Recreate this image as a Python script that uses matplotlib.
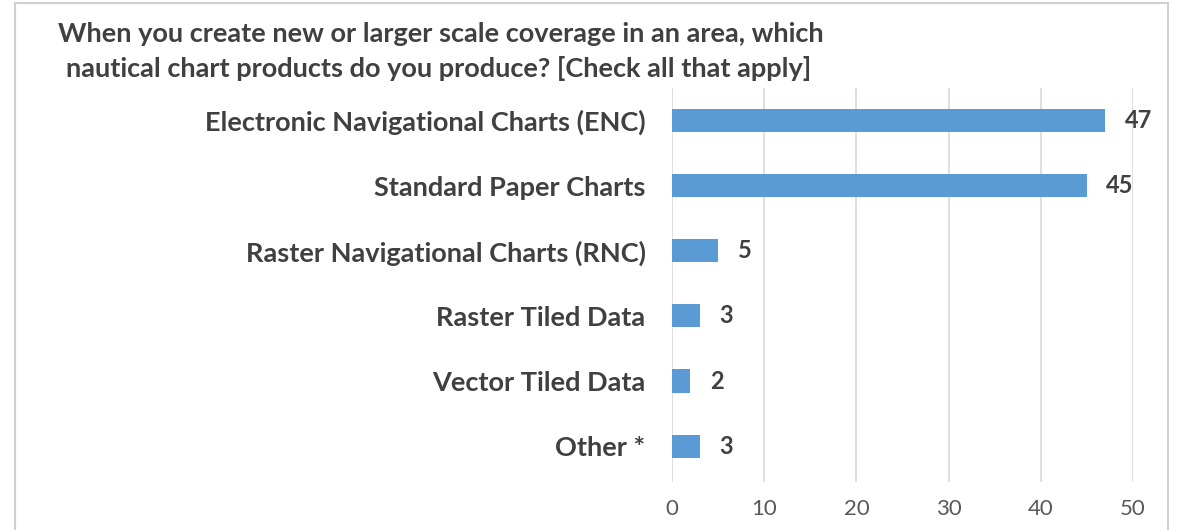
import matplotlib.pyplot as plt
from matplotlib.patches import Rectangle

categories = ['Electronic Navigational Charts (ENC)', 'Standard Paper Charts',
              'Raster Navigational Charts (RNC)', 'Raster Tiled Data',
              'Vector Tiled Data', 'Other *']
counts = [47, 45, 5, 3, 2, 3]
title_lines = ['When you create new or larger scale coverage in an area, which',
               'nautical chart products do you produce? [Check all that apply]']

plt.rcParams['font.family'] = ['Lato', 'DejaVu Sans']

W, H = 1177, 530
fig = plt.figure(figsize=(W / 100, H / 100), dpi=100)
ax = fig.add_axes([672 / W, 1 - 482 / H, (1133 - 672) / W, (482 - 88) / H])

ypos = list(range(len(categories)))
ax.barh(ypos, counts, height=0.355, color='#5B9BD5', zorder=3)
for y, v in zip(ypos, counts):
    ax.annotate(str(v), (v, y), xytext=(14, 0), textcoords='offset points',
                ha='left', va='center', fontsize=17, fontweight='bold',
                color='#404040', annotation_clip=False)

ax.set_yticks(ypos)
ax.set_yticklabels(categories, fontsize=19.5, fontweight='bold', color='#404040')
ax.set_ylim(5.55, -0.5)
ax.set_xlim(0, 50)
ax.set_xticks(range(0, 51, 10))
ax.tick_params(axis='x', labelsize=16, colors='#595959', length=0, pad=12)
ax.tick_params(axis='y', length=0, pad=19)
ax.grid(axis='x', color='#D9D9D9', linewidth=1.2, zorder=0)
for s in ax.spines.values():
    s.set_visible(False)

fig.text(58 / W, 1 - 42 / H, title_lines[0], fontsize=19.5, fontweight='bold',
         color='#404040', ha='left', va='baseline')
fig.text(66 / W, 1 - 77 / H, title_lines[1], fontsize=19.5, fontweight='bold',
         color='#404040', ha='left', va='baseline')

fig.patches.append(Rectangle((15 / W, -0.05), (1168 - 15) / W, 1.05 - 3 / H,
                             transform=fig.transFigure, fill=False,
                             edgecolor='#D0D0D0', linewidth=1.5))

plt.savefig('out.png', dpi=100)
